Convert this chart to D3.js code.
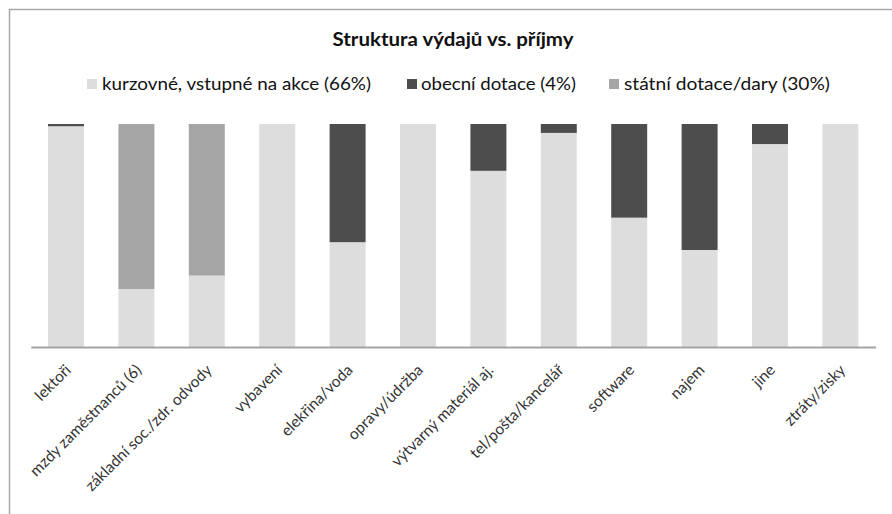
<!DOCTYPE html>
<html><head><meta charset="utf-8">
<script src="https://cdn.jsdelivr.net/npm/d3@7"></script>
<style>
html,body{margin:0;padding:0;background:#fff;}
svg{display:block;}
text{font-family:Lato,"Open Sans",sans-serif;}
</style></head>
<body>
<svg id="chart" width="892" height="514"></svg>
<script>
const categories = ["lektoři","mzdy zaměstnanců  (6)","základní soc./zdr. odvody","vybavení","elekřina/voda","opravy/údržba","výtvarný materiál aj.","tel/pošta/kancelář","software","najem","jine","ztráty/zisky"];
const kurzovne = [99, 26, 32, 100, 47, 100, 79, 96, 58, 43.5, 91, 100];
const obecni   = [1, 0, 0, 0, 53, 0, 21, 4, 42, 56.5, 9, 0];
const statni   = [0, 74, 68, 0, 0, 0, 0, 0, 0, 0, 0, 0];
const seriesNames = ["kurzovné, vstupné na akce (66%)", "obecní dotace (4%)", "státní dotace/dary (30%)"];
const seriesColors = ["#dddddd", "#4d4d4d", "#a5a5a5"];
const titleText = "Struktura výdajů vs. příjmy";

const svg = d3.select("#chart");

// frame
svg.append("rect").attr("x",9.5).attr("y",9.5).attr("width",1000).attr("height",1000)
  .attr("fill","#fff").attr("stroke","#a8a8a8").attr("stroke-width",1.5);

const rows = categories.map((c,i)=>({cat:c, k:kurzovne[i], o:obecni[i], s:statni[i]}));
const keys = ["k","o","s"];
const stack = d3.stack().keys(keys)(rows);

const x = d3.scaleBand().domain(categories).range([30.8, 875.6]).paddingInner(0.489).paddingOuter(0.2445);
const y = d3.scaleLinear().domain([0,100]).range([347, 124]);

const g = svg.append("g");
g.selectAll("g.series").data(stack).join("g").attr("class","series")
  .attr("fill",(d,i)=>seriesColors[i])
  .selectAll("rect").data(d=>d.filter(v=>v[1]-v[0]>0)).join("rect")
  .attr("x",d=>x(d.data.cat)).attr("width",x.bandwidth())
  .attr("y",d=>y(d[1])).attr("height",d=>y(d[0])-y(d[1]));

// axis
const axis = d3.axisBottom(x).tickSize(0).tickPadding(0);
const ag = svg.append("g").attr("transform","translate(0,347)").call(axis);
ag.select(".domain").attr("stroke","#a3a3a3").attr("stroke-width",2.2);
ag.selectAll(".tick text")
  .attr("text-anchor","end")
  .attr("font-size",15.5)
  .attr("fill","#333")
  .attr("font-family","Lato, sans-serif")
  .attr("y",0).attr("dy",0)
  .attr("transform","translate(6,24) rotate(-45)");

// title
svg.append("text").attr("x",453).attr("y",46).attr("text-anchor","middle")
  .attr("font-size",19).attr("font-weight","bold").attr("fill","#111")
  .attr("textLength",241).attr("lengthAdjust","spacingAndGlyphs")
  .text(titleText);

// legend
const legendItems = [
  {sq:87, tx:102, w:269},
  {sq:407, tx:421, w:155},
  {sq:609, tx:624, w:206}
];
const lg = svg.append("g");
legendItems.forEach((L,i)=>{
  lg.append("rect").attr("x",L.sq).attr("y",79).attr("width",10).attr("height",10).attr("fill",seriesColors[i]);
  lg.append("text").attr("x",L.tx).attr("y",90).attr("font-size",18).attr("fill","#111")
    .attr("textLength",L.w).attr("lengthAdjust","spacingAndGlyphs").text(seriesNames[i]);
});
</script>
</body></html>
